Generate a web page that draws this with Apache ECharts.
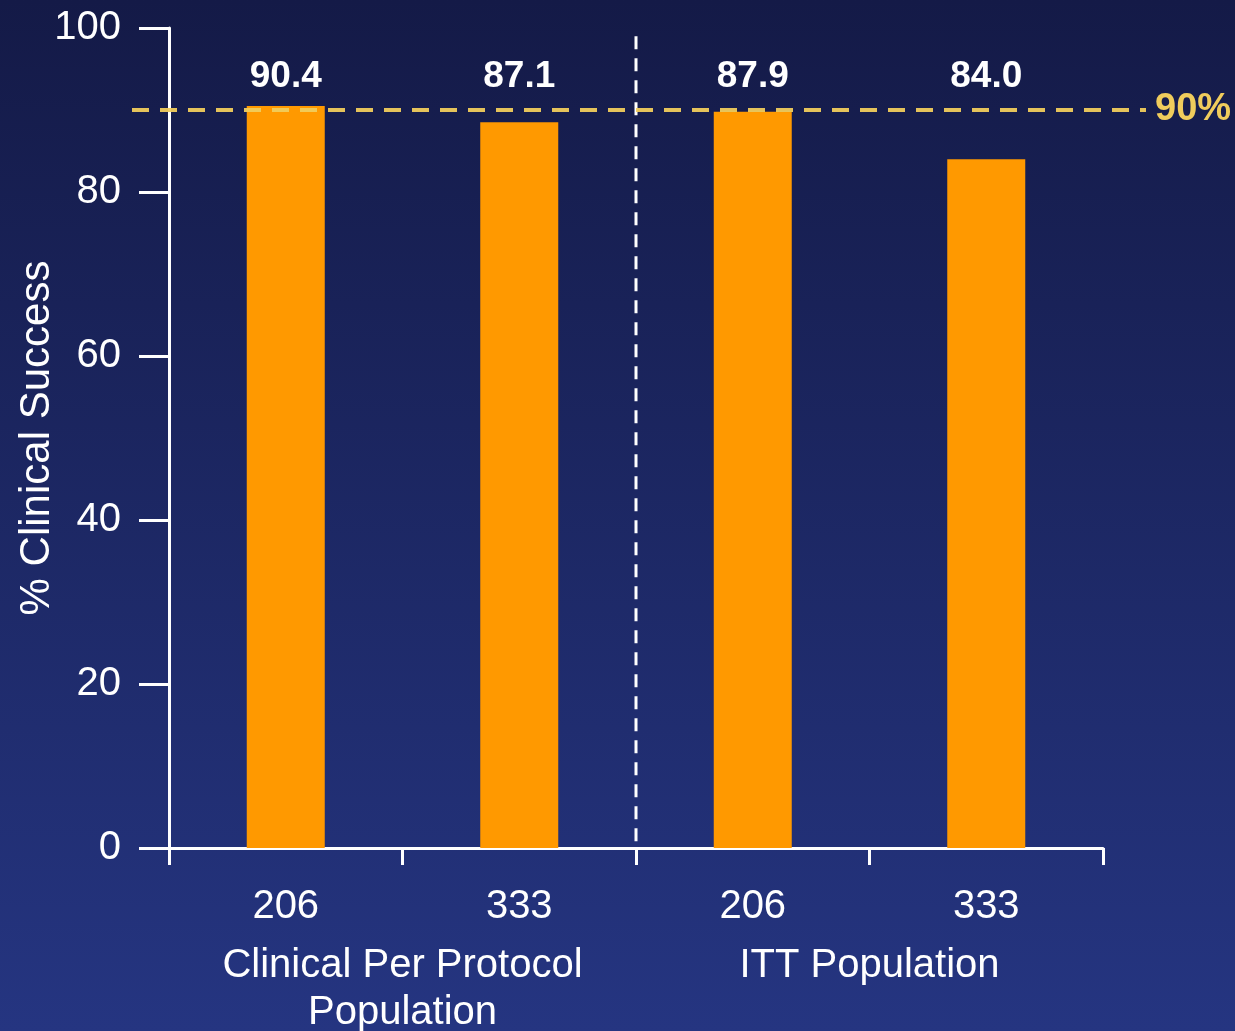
<!DOCTYPE html>
<html>
<head>
<meta charset="utf-8">
<script src="https://cdn.jsdelivr.net/npm/echarts@6/dist/echarts.min.js"></script>
<style>
  html, body { margin: 0; padding: 0; }
  #chart { width: 1235px; height: 1031px; }
</style>
</head>
<body>
<div id="chart"></div>
<script>
const categories = ['206', '333', '206', '333'];
const groups = ['Clinical Per Protocol\nPopulation', 'ITT Population'];
const barHeights = [90.5, 88.5, 89.8, 84.0];
const barLabels = ['90.4', '87.1', '87.9', '84.0'];
const labelLevel = [94.1, 94.1, 94.1, 94.1];
const yTicks = [0, 20, 40, 60, 80, 100];
const refValue = 90;
const refText = '90%';

const FONT = "'Liberation Sans', Arial, sans-serif";
const chart = echarts.init(document.getElementById('chart'));

chart.setOption({
  animation: false,
  backgroundColor: {
    type: 'linear', x: 0, y: 0, x2: 0, y2: 1,
    colorStops: [
      { offset: 0, color: '#141a47' },
      { offset: 1, color: '#253581' },
    ],
  },
  textStyle: { fontFamily: FONT },
  grid: { left: 169, right: 132, top: 28, bottom: 183, outerBoundsMode: 'none' },
  xAxis: {
    type: 'category',
    data: categories,
    axisLine: { lineStyle: { color: '#ffffff', width: 3 } },
    axisTick: { show: true, length: 17, lineStyle: { color: '#ffffff', width: 3 } },
    axisLabel: { color: '#ffffff', fontSize: 40, margin: 39, fontFamily: FONT },
  },
  yAxis: {
    type: 'value',
    min: yTicks[0],
    max: yTicks[yTicks.length - 1],
    interval: yTicks[1] - yTicks[0],
    name: '% Clinical Success',
    nameLocation: 'middle',
    nameGap: 111,
    nameMoveOverlap: false,
    nameTextStyle: { color: '#ffffff', fontSize: 42, fontFamily: FONT },
    axisLine: { show: true, lineStyle: { color: '#ffffff', width: 3 } },
    axisTick: { show: true, length: 30, lineStyle: { color: '#ffffff', width: 3 } },
    axisLabel: { color: '#ffffff', fontSize: 40, margin: 48, fontFamily: FONT },
    splitLine: { show: false },
  },
  series: [
    {
      type: 'bar',
      data: barHeights,
      barWidth: 78,
      itemStyle: { color: '#ff9900' },
    },
    {
      type: 'scatter',
      data: labelLevel,
      symbolSize: 0,
      itemStyle: { opacity: 1 },
      label: {
        show: true,
        position: 'inside',
        formatter: (p) => barLabels[p.dataIndex],
        color: '#ffffff',
        fontSize: 37,
        fontWeight: 'bold',
        fontFamily: FONT,
      },
    },
  ],
});

// reference line, divider and group names placed from the axes
const px = (i) => chart.convertToPixel({ xAxisIndex: 0 }, i);
const py = (v) => chart.convertToPixel({ yAxisIndex: 0 }, v);
const yRef = py(refValue);
const xDiv = (px(1) + px(2)) / 2;

chart.setOption({
  graphic: [
    {
      type: 'line', z: 100,
      shape: { x1: xDiv, y1: py(99), x2: xDiv, y2: py(0) },
      style: { stroke: '#ffffff', lineWidth: 3, lineDash: [13, 9] },
    },
    {
      type: 'line', z: 101,
      shape: { x1: 132, y1: yRef, x2: 1146, y2: yRef },
      style: { stroke: '#f0cc5c', lineWidth: 4, lineDash: [17, 11], opacity: 0.95 },
    },
    {
      type: 'text', z: 101,
      style: {
        text: refText, x: 1155, y: yRef, textVerticalAlign: 'middle',
        fill: '#f0cc5c', font: 'bold 38px ' + FONT,
      },
    },
    {
      type: 'text',
      style: {
        text: groups[0], x: (px(0) + px(1)) / 2, y: 942, textAlign: 'center',
        fill: '#ffffff', font: '40px ' + FONT, lineHeight: 47,
      },
    },
    {
      type: 'text',
      style: {
        text: groups[1], x: (px(2) + px(3)) / 2, y: 942, textAlign: 'center',
        fill: '#ffffff', font: '40px ' + FONT, lineHeight: 47,
      },
    },
  ],
});
</script>
</body>
</html>
